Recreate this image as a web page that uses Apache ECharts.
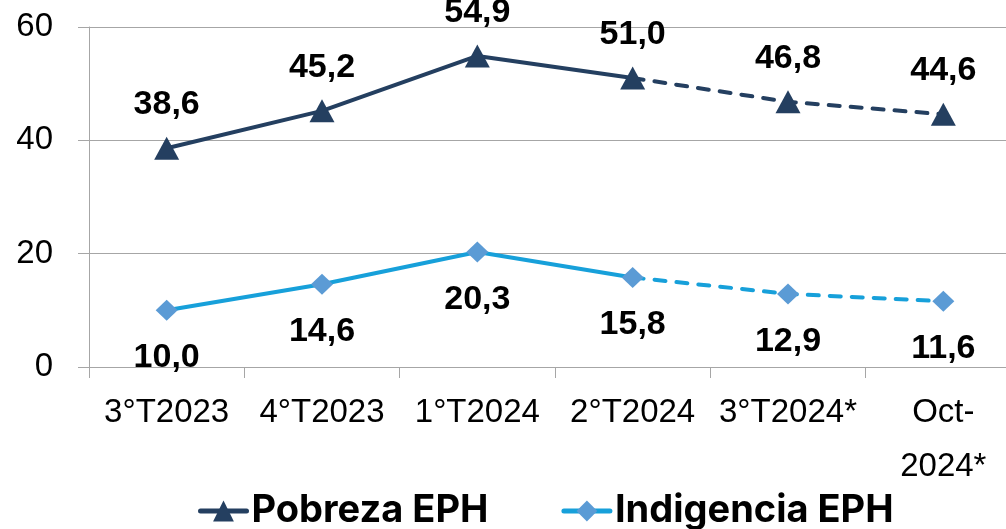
<!DOCTYPE html>
<html>
<head>
  <meta charset="utf-8"/>
  <script src="https://cdn.jsdelivr.net/npm/echarts@6/dist/echarts.min.js"></script>
  <style>
    html, body { margin: 0; padding: 0; background: #fff; }
    #chartmain { width: 1006px; height: 529px; }
  </style>
</head>
<body>
  <div id="chartmain"></div>
  <script type="text/javascript">
    // datos
    var categorias = ['3°T2023', '4°T2023', '1°T2024', '2°T2024', '3°T2024*', 'Oct-\n2024*'];
    var pobreza = [38.6, 45.2, 54.9, 51.0, 46.8, 44.6];
    var indigencia = [10.0, 14.6, 20.3, 15.8, 12.9, 11.6];
    var ultimoObservado = 3; // desde aqui la linea es punteada
    var yTicks = [0, 20, 40, 60];

    var colPobreza = '#243f60';
    var colIndig = '#17a0da';
    var colIndigMarker = '#5b9bd5';
    var fuente = '"Liberation Sans", Arial, sans-serif';

    function coma(p) {
      return p.value.toFixed(1).replace('.', ',');
    }
    // parte solida y parte punteada
    function solida(arr) {
      return arr.map(function (v, i) { return i <= ultimoObservado ? v : '-'; });
    }
    function punteada(arr) {
      return arr.map(function (v, i) {
        if (i < ultimoObservado) return '-';
        if (i == ultimoObservado) return { value: v, label: { show: false }, symbol: 'none' };
        return v;
      });
    }

    var labelBase = {
      show: true,
      color: '#000',
      fontFamily: fuente,
      fontWeight: 'bold',
      fontSize: 34,
      formatter: coma
    };

    var option = {
      animation: false,
      grid: { left: 89, right: -15, top: 27, bottom: 162, outerBoundsMode: 'none' },
      legend: {
        left: 193,
        top: 487,
        itemWidth: 46,
        itemHeight: 26,
        itemGap: 73,
        data: ['Pobreza EPH', 'Indigencia EPH'],
        lineStyle: { width: 5, cap: 'round' },
        textStyle: { fontFamily: 'Inter, "Noto Sans", sans-serif', fontWeight: 'bold', fontSize: 38, color: '#000' }
      },
      xAxis: {
        type: 'category',
        data: categorias,
        boundaryGap: true,
        axisLine: { lineStyle: { color: '#a6a6a6', width: 1 } },
        axisTick: { show: true, length: 11, lineStyle: { color: '#a6a6a6' } },
        axisLabel: { color: '#000', fontFamily: fuente, fontSize: 33, lineHeight: 54, margin: 19, interval: 0 }
      },
      yAxis: {
        type: 'value',
        min: yTicks[0],
        max: yTicks[yTicks.length - 1],
        interval: 20,
        axisLine: { show: true, lineStyle: { color: '#a6a6a6', width: 1 } },
        axisTick: { show: true, length: 11, lineStyle: { color: '#a6a6a6' } },
        axisLabel: { color: '#000', fontFamily: fuente, fontSize: 33, margin: 36 },
        splitLine: { lineStyle: { color: '#a6a6a6', width: 1 } }
      },
      series: [
        {
          name: 'Pobreza EPH',
          type: 'line',
          data: solida(pobreza),
          symbol: 'triangle',
          symbolSize: [25, 23],
          itemStyle: { color: colPobreza },
          lineStyle: { color: colPobreza, width: 4 },
          label: Object.assign({}, labelBase, { position: 'top', distance: 15 }),
          z: 3
        },
        {
          name: 'Pobreza proy',
          type: 'line',
          data: punteada(pobreza),
          symbol: 'triangle',
          symbolSize: [25, 23],
          itemStyle: { color: colPobreza },
          lineStyle: { color: colPobreza, width: 4, type: [11, 11], cap: 'round' },
          label: Object.assign({}, labelBase, { position: 'top', distance: 15 }),
          z: 2
        },
        {
          name: 'Indigencia EPH',
          type: 'line',
          data: solida(indigencia),
          symbol: 'diamond',
          symbolSize: [22, 21],
          itemStyle: { color: colIndigMarker },
          lineStyle: { color: colIndig, width: 4 },
          label: Object.assign({}, labelBase, { position: 'bottom', distance: 20 }),
          z: 3
        },
        {
          name: 'Indigencia proy',
          type: 'line',
          data: punteada(indigencia),
          symbol: 'diamond',
          symbolSize: [22, 21],
          itemStyle: { color: colIndigMarker },
          lineStyle: { color: colIndig, width: 4, type: [11, 11], cap: 'round' },
          label: Object.assign({}, labelBase, { position: 'bottom', distance: 20 }),
          z: 2
        }
      ]
    };

    var myChart = echarts.init(document.getElementById('chartmain'));
    myChart.setOption(option);
  </script>
</body>
</html>
